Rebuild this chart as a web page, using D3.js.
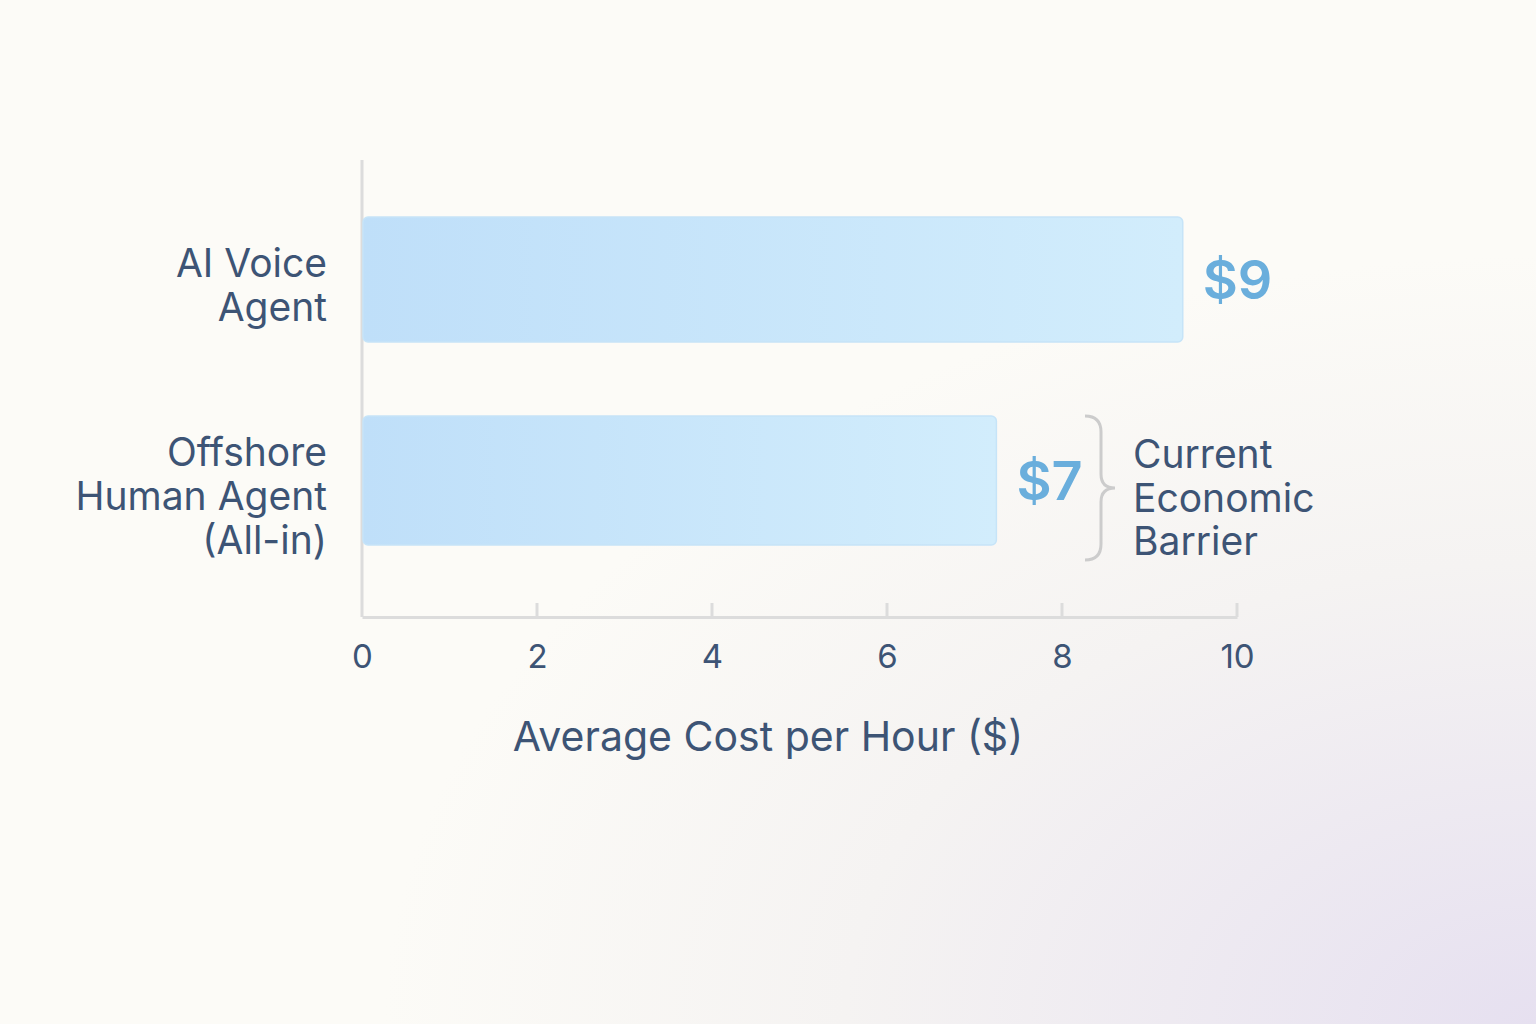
<!DOCTYPE html>
<html><head><meta charset="utf-8">
<script src="https://cdn.jsdelivr.net/npm/d3@7"></script>
<style>body{margin:0;overflow:hidden}</style>
</head><body>
<svg id="c" width="1536" height="1024"></svg>
<script>
const categories = [["AI Voice","Agent"],["Offshore","Human Agent","(All-in)"]];
const values = [9.38, 7.25];
const valueLabels = ["$9", "$7"];
const ticks = [0,2,4,6,8,10];
const axisTitle = "Average Cost per Hour ($)";
const annotation = ["Current","Economic","Barrier"];

const svg = d3.select("#c");
const defs = svg.append("defs");
const bg = defs.append("radialGradient").attr("id","bg").attr("cx","1").attr("cy","1").attr("r","0.75");
bg.append("stop").attr("offset","0").attr("stop-color","#e6e0f0");
bg.append("stop").attr("offset","0.6").attr("stop-color","#f5f3f2");
bg.append("stop").attr("offset","1").attr("stop-color","#fcfbf7");
const bar = defs.append("linearGradient").attr("id","bar");
bar.append("stop").attr("offset","0").attr("stop-color","#bfdff9");
bar.append("stop").attr("offset","1").attr("stop-color","#d2edfc");
svg.append("rect").attr("width",1536).attr("height",1024).attr("fill","#fcfbf7");
svg.append("rect").attr("width",1536).attr("height",1024).attr("fill","url(#bg)");

const font = "Inter, 'Noto Sans', sans-serif";
const x = d3.scaleLinear().domain([0,10]).range([362,1237]);
const yTop = [217, 416], yH = [125, 129];
const labelFirstY = [277, 466];
const dark = "#3d5475";

// axis
const axisY = 617;
svg.append("line").attr("x1",362).attr("x2",362).attr("y1",160).attr("y2",axisY).attr("stroke","#dcdcdc").attr("stroke-width",3);
const ax = svg.append("g").attr("transform",`translate(0,${axisY})`)
  .call(d3.axisBottom(x).tickValues(ticks).tickSize(0).tickPadding(28).tickFormat(d3.format("d")));
ax.select(".domain").attr("stroke","#dcdcdc").attr("stroke-width",3);
ax.selectAll("text").attr("font-family",font).attr("font-size",33).attr("fill",dark);
ticks.forEach(t=>{ if(t>0) svg.append("line").attr("x1",x(t)).attr("x2",x(t)).attr("y1",axisY-14).attr("y2",axisY).attr("stroke","#dcdcdc").attr("stroke-width",3);});
svg.append("text").attr("x",768).attr("y",751).attr("text-anchor","middle").attr("font-family",font).attr("font-size",41).attr("fill",dark).text(axisTitle);

// bars
values.forEach((v,i)=>{
  svg.append("rect").attr("x",x(0)+1).attr("y",yTop[i]).attr("width",x(v)-x(0)-1).attr("height",yH[i])
    .attr("rx",5).attr("fill","url(#bar)").attr("stroke","#c6e4f8").attr("stroke-width",1.5);
  svg.append("text").attr("x",x(v)+20).attr("y",yTop[i]+yH[i]/2+19).attr("font-family",font).attr("font-weight",600)
    .attr("font-size",54).attr("fill","#6aaedc").text(valueLabels[i]);
  categories[i].forEach((l,j)=>{
    svg.append("text").attr("x",327).attr("y",labelFirstY[i]+j*44).attr("text-anchor","end")
      .attr("font-family",font).attr("font-size",39).attr("fill",dark).text(l);
  });
});

// brace
const bx=1085, by0=416, by1=560, bm=(by0+by1)/2;
svg.append("path").attr("d",`M${bx},${by0} Q${bx+16},${by0} ${bx+16},${by0+16} L${bx+16},${bm-14} Q${bx+16},${bm} ${bx+30},${bm} Q${bx+16},${bm} ${bx+16},${bm+14} L${bx+16},${by1-16} Q${bx+16},${by1} ${bx},${by1}`)
  .attr("fill","none").attr("stroke","#cccccc").attr("stroke-width",3);
annotation.forEach((l,j)=>svg.append("text").attr("x",1133).attr("y",468+j*43.5).attr("font-family",font)
  .attr("font-size",39).attr("fill",dark).text(l));
</script>
</body></html>
